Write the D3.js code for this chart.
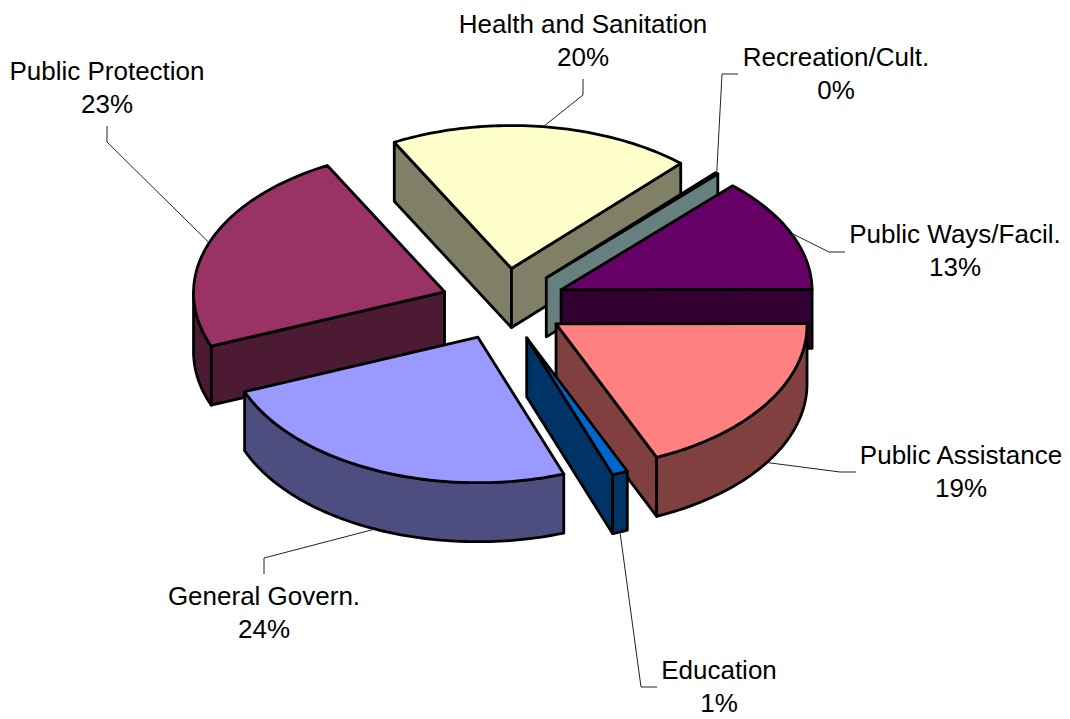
<!DOCTYPE html>
<html>
<head>
<meta charset="utf-8">
<script src="https://cdn.jsdelivr.net/npm/d3@7/dist/d3.min.js"></script>
<style>
html,body{margin:0;padding:0;background:#fff;overflow:hidden}
text{font-family:"Liberation Sans",Arial,sans-serif;font-size:26px;fill:#000;text-anchor:middle}
</style>
</head>
<body>
<svg id="chart" width="1070" height="719"></svg>
<script>
// Data, in clockwise pie order
const categories = ["Health and Sanitation","Recreation/Cult.","Public Ways/Facil.","Public Assistance","Education","General Govern.","Public Protection"];
const shares = [19.6,0.2,12.9,18.5,1.0,24.4,23.3];
const topColors = ["#FFFFCC","#CCFFFF","#660066","#FF8080","#0066CC","#9999FF","#993366"];

// Layout, kept apart from the data
const drawOrder = [0,1,6,2,3,5,4];
const labelCenters = [[583,33],[836,66],[955,243],[961,464],[719,679],[264,605],[107,80]];
const leaderBends = [
  [[583,95],[583,79]],
  [[722,74],[738,74]],
  [[829,252],[845,252]],
  [[840,472],[856,472]],
  [[641,687],[657,687]],
  [[264,558],[264,574]],
  [[107,142],[107,126]]
];
const center = [503.5,304], rx = 251, ryBack = 143, ryFront = 145.5, depth = 59, explode = 0.25, lineGap = 33, widen = 0.006;
const firstAngle = -28 * Math.PI / 180;

const svg = d3.select("#chart");
const total = d3.sum(shares);
const arcs = d3.pie().sort(null).startAngle(firstAngle).endAngle(firstAngle + 2*Math.PI)(shares);
const sx = d3.scaleLinear().domain([-1,1]).range([-rx,rx]);
const sy = d3.scaleLinear().domain([-1,0,1]).range([-ryBack,0,ryFront]);
const line = d3.line();
const shade = c => { const k = d3.rgb(c); return d3.rgb(k.r/2,k.g/2,k.b/2).formatHex(); };

function sector(a){
  const mid = (a.startAngle + a.endAngle)/2;
  const ax = center[0] + sx(explode*Math.sin(mid));
  const ay = center[1] + sy(-explode*Math.cos(mid));
  const at = t => [ax + sx(Math.sin(t))*(1 - widen*Math.cos(t)), ay + sy(-Math.cos(t))];
  return {mid, apex:[ax,ay], at};
}
function samples(t0,t1){
  const n = Math.max(2, Math.ceil((t1-t0)/0.02));
  return d3.range(n+1).map(i => t0 + (t1-t0)*i/n);
}
const drop = p => [p[0], p[1]+depth];

const gSlices = svg.append("g");
drawOrder.forEach(i => {
  const a = arcs[i], s = sector(a), wall = shade(topColors[i]);
  const g = gSlices.append("g");
  const face = pts => g.append("path").attr("d", line(pts)+"Z").attr("fill",wall)
    .attr("stroke","#000").attr("stroke-width",2.8).attr("stroke-linejoin","round");
  const p0 = s.at(a.startAngle), p1 = s.at(a.endAngle);
  if (p0[0] < s.apex[0]) face([s.apex,p0,drop(p0),drop(s.apex)]);
  if (s.apex[0] < p1[0]) face([s.apex,p1,drop(p1),drop(s.apex)]);
  // visible part of the outer wall: the front half of the ellipse
  [[Math.PI/2,3*Math.PI/2],[5*Math.PI/2,7*Math.PI/2]].forEach(([lo,hi]) => {
    const t0 = Math.max(a.startAngle,lo), t1 = Math.min(a.endAngle,hi);
    if (t1 > t0) {
      const top = samples(t0,t1).map(s.at);
      face(top.concat(top.map(drop).reverse()));
    }
  });
  const rim = samples(a.startAngle,a.endAngle).map(s.at);
  g.append("path").attr("d", line([s.apex].concat(rim))+"Z").attr("fill",topColors[i])
    .attr("stroke","#000").attr("stroke-width",2.8).attr("stroke-linejoin","round");
});

const gLeaders = svg.append("g");
arcs.forEach((a,i) => {
  const s = sector(a);
  let p = s.at(s.mid);
  if (Math.cos(s.mid) < -0.2) p = drop(p);
  gLeaders.append("path").attr("d", line([p].concat(leaderBends[i])))
    .attr("fill","none").attr("stroke","#222").attr("stroke-width",1);
});

const pct = d3.format(".0f");
const gLabels = svg.append("g");
categories.forEach((c,i) => {
  const [x,y] = labelCenters[i];
  gLabels.append("text").attr("x",x).attr("y",y).text(c);
  gLabels.append("text").attr("x",x).attr("y",y+lineGap).text(pct(shares[i]/total*100)+"%");
});
</script>
</body>
</html>
